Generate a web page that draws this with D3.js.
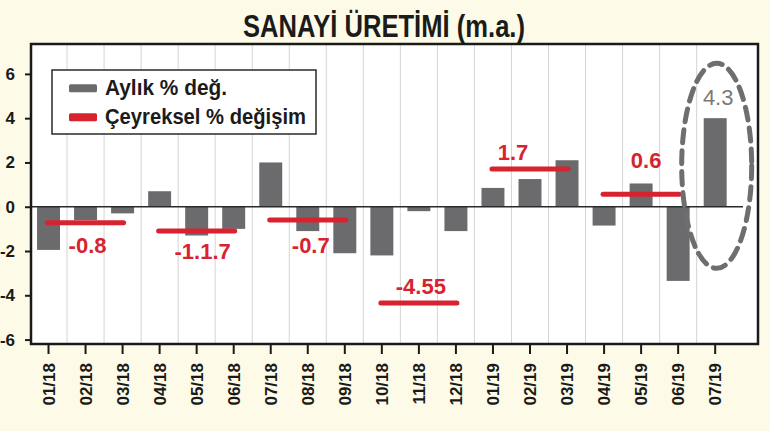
<!DOCTYPE html>
<html>
<head>
<meta charset="utf-8">
<script src="https://cdn.jsdelivr.net/npm/d3@7"></script>
<style>
  html, body { margin: 0; padding: 0; background: #fdfbe7; }
  svg { display: block; }
  text { font-family: "Liberation Sans", Arial, sans-serif; }
</style>
</head>
<body>
<svg id="chart" width="770" height="431"></svg>
<script>
// ---- data ----
const months = ["01/18","02/18","03/18","04/18","05/18","06/18","07/18","08/18","09/18",
                "10/18","11/18","12/18","01/19","02/19","03/19","04/19","05/19","06/19","07/19"];
const monthly = [-1.95, -0.6, -0.3, 0.7, -1.3, -1.0, 2.0, -1.1, -2.1,
                 -2.2, -0.2, -1.1, 0.85, 1.25, 2.1, -0.85, 1.05, -3.35, 4.0];
const quarterStart = ["01/18","04/18","07/18","10/18","01/19","04/19"];
const quarterEnd   = ["03/18","06/18","09/18","12/18","03/19","06/19"];
const quarterly    = [-0.72, -1.1, -0.6, -4.35, 1.7, 0.56];
const quarterLabels = ["-0.8", "-1.1.7", "-0.7", "-4.55", "1.7", "0.6"];
const highlightLabel = "4.3";
const yTicks = [-6, -4, -2, 0, 2, 4, 6];
const legendLabels = ["Aylık % değ.", "Çeyreksel % değişim"];
const titleText = "SANAYİ ÜRETİMİ (m.a.)";

// ---- styling / layout ----
const barColor = "#6b6b6d";
const red = "#d7232f";
const labelOffsets = [[2, 30], [6, 28], [3, 32.5], [2, -9], [-17, -9.5], [5, -26]];

const svg = d3.select("#chart");
const frame = {left: 31, top: 44, right: 758, bottom: 344};

const x = d3.scaleBand().domain(months).range([30, 733.7])
  .paddingInner(0.38).paddingOuter(0.19);
const y = d3.scaleLinear().domain([-6.2, 7.35]).range([frame.bottom, frame.top]);
const cx = m => x(m) + x.bandwidth() / 2;
const step = x.step();
const bandStart = x(months[0]) - step * 0.19;

// title
svg.append("text")
  .attr("x", 384).attr("y", 37)
  .attr("text-anchor", "middle")
  .attr("textLength", 282).attr("lengthAdjust", "spacingAndGlyphs")
  .style("font-family", "'Liberation Sans Narrow', 'Liberation Sans', sans-serif")
  .style("font-weight", "bold").style("font-size", "31px").style("fill", "#1b1b1b")
  .text(titleText);

// plot background
svg.append("rect")
  .attr("x", frame.left).attr("y", frame.top)
  .attr("width", frame.right - frame.left).attr("height", frame.bottom - frame.top)
  .attr("fill", "#ffffff");

// vertical gridlines at band boundaries
const gridPos = months.slice(1).map((m, i) => bandStart + step * (i + 1));
svg.append("g").selectAll("line").data(gridPos).join("line")
  .attr("x1", d => d).attr("x2", d => d)
  .attr("y1", frame.top).attr("y2", frame.bottom)
  .attr("stroke", "#d4d4d4").attr("stroke-width", 1);

// bars
svg.append("g").selectAll("rect").data(months).join("rect")
  .attr("x", d => x(d))
  .attr("width", x.bandwidth())
  .attr("y", (d, i) => y(Math.max(0, monthly[i])))
  .attr("height", (d, i) => Math.abs(y(monthly[i]) - y(0)))
  .attr("fill", barColor);

// zero line
svg.append("line")
  .attr("x1", frame.left).attr("x2", 743)
  .attr("y1", y(0)).attr("y2", y(0))
  .attr("stroke", "#2a2a2a").attr("stroke-width", 1.5);

// quarterly lines
svg.append("g").selectAll("line").data(quarterly).join("line")
  .attr("x1", (d, i) => cx(quarterStart[i]) - 1)
  .attr("x2", (d, i) => cx(quarterEnd[i]) + 1)
  .attr("y1", d => y(d)).attr("y2", d => y(d))
  .attr("stroke", red).attr("stroke-width", 5).attr("stroke-linecap", "round");

// quarterly labels
svg.append("g").selectAll("text").data(quarterly).join("text")
  .attr("x", (d, i) => (cx(quarterStart[i]) + cx(quarterEnd[i])) / 2 + labelOffsets[i][0])
  .attr("y", (d, i) => y(d) + labelOffsets[i][1])
  .attr("text-anchor", "middle")
  .style("font-weight", "bold").style("font-size", "22px").style("fill", red)
  .text((d, i) => quarterLabels[i]);

// highlight last bar
const last = months[months.length - 1];
const lastVal = monthly[monthly.length - 1];
svg.append("text")
  .attr("x", cx(last) + 3).attr("y", y(lastVal) - 13)
  .attr("text-anchor", "middle")
  .style("font-size", "22px").style("fill", "#7a7a7a")
  .text(highlightLabel);
svg.append("ellipse")
  .attr("cx", cx(last) + 1.5).attr("cy", y(1.85))
  .attr("rx", 35).attr("ry", 102.5)
  .attr("fill", "none").attr("stroke", "#6e6e70")
  .attr("stroke-width", 5).attr("stroke-dasharray", "13 8")
  .attr("stroke-linecap", "round");

// frame
svg.append("rect")
  .attr("x", frame.left).attr("y", frame.top)
  .attr("width", frame.right - frame.left).attr("height", frame.bottom - frame.top)
  .attr("fill", "none").attr("stroke", "#1a1a1a").attr("stroke-width", 2.5);

// y axis
const yAxis = svg.append("g").attr("transform", `translate(${frame.left},0)`)
  .call(d3.axisLeft(y).tickValues(yTicks).tickSize(6).tickPadding(10).tickFormat(d3.format("d")));
yAxis.select(".domain").remove();
yAxis.selectAll(".tick line").attr("stroke", "#1a1a1a").attr("stroke-width", 2);
yAxis.selectAll(".tick text")
  .style("font-family", "'Liberation Sans', sans-serif")
  .style("font-weight", "bold").style("font-size", "17px").style("fill", "#1a1a1a")
  .text(d => d < 0 ? "-" + Math.abs(d) : d);

// x axis
const xAxis = svg.append("g").attr("transform", `translate(0,${frame.bottom})`)
  .call(d3.axisBottom(x).tickSize(10));
xAxis.select(".domain").remove();
xAxis.selectAll(".tick line").attr("stroke", "#1a1a1a").attr("stroke-width", 2);
xAxis.selectAll(".tick text")
  .attr("transform", "rotate(-90)")
  .attr("x", -19).attr("y", 0).attr("dy", "0.36em")
  .style("text-anchor", "end")
  .style("font-family", "'Liberation Sans', sans-serif")
  .style("font-weight", "bold").style("font-size", "17px").style("fill", "#1a1a1a");

// legend
const lg = svg.append("g");
lg.append("rect").attr("x", 52).attr("y", 70).attr("width", 264).attr("height", 64)
  .attr("fill", "#ffffff").attr("stroke", "#2a2a2a").attr("stroke-width", 1.5);
const legendColors = [barColor, red];
const legendWidths = [122, 201];
legendLabels.forEach((t, i) => {
  const cy = 88.3 + i * 29;
  lg.append("rect").attr("x", 69).attr("y", cy - 4).attr("width", 28).attr("height", 8)
    .attr("rx", 1.5).attr("fill", legendColors[i]);
  lg.append("text").attr("x", 105).attr("y", cy + 6.5)
    .attr("textLength", legendWidths[i]).attr("lengthAdjust", "spacingAndGlyphs")
    .style("font-family", "'Liberation Sans Narrow', 'Liberation Sans', sans-serif")
    .style("font-weight", "bold").style("font-size", "22px").style("fill", "#1b1b1b")
    .text(t);
});
</script>
</body>
</html>
